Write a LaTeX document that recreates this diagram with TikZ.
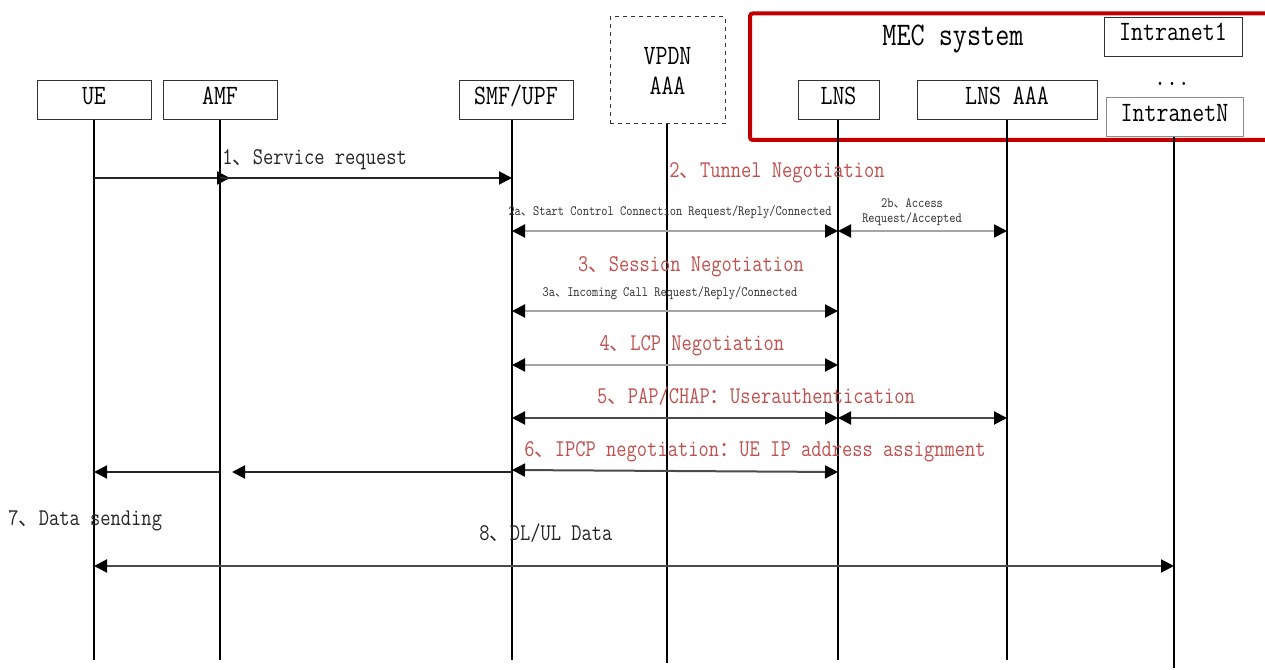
\documentclass[tikz,border=0pt]{standalone}
\usepackage{fontspec}
\setmainfont{Latin Modern Mono}[FakeStretch=0.83]
\newfontfamily\cjk{Noto Sans CJK SC}[Scale=0.85]
\usetikzlibrary{arrows.meta,calc}
\definecolor{framered}{RGB}{192,0,0}
\definecolor{txtred}{RGB}{192,80,77}
\definecolor{boxgray}{RGB}{51,51,51}
\definecolor{lightline}{RGB}{165,165,165}
\definecolor{darkline}{RGB}{75,75,75}
\newcommand\dun{{\cjk 、}}
\newcommand\fwc{{\cjk ：}}
\begin{document}
\begin{tikzpicture}[x=0.75pt,y=-0.75pt,
  >={Triangle[length=9.75pt,width=9.75pt,color=black]},
  actor/.style={draw=boxgray,fill=white,line width=0.75pt,inner sep=0pt,minimum height=29.25pt,
    font=\fontsize{21pt}{25pt}\selectfont,text height=0.56em,text depth=0pt},
  life/.style={line width=1.1pt,black},
  msg/.style={line width=1.5pt,draw=#1,->},
  msg/.default=black!85,
  dmsg/.style={line width=1.5pt,draw=#1,<->},
  dmsg/.default=darkline,
  lab/.style={font=\fontsize{18pt}{21pt}\selectfont,inner sep=0pt,text=black!85},
  redlab/.style={lab,text=txtred},
  small/.style={font=\fontsize{10.7pt}{11.5pt}\selectfont,inner sep=0pt,text=black!80,align=center}
]
\useasboundingbox[fill=white] (0,0) rectangle (1265,670);

% MEC system frame
\draw[framered,line width=3pt,rounded corners=2pt] (1265,13.5) -- (750,13.5) -- (750,140) -- (1265,140);
\node[font=\fontsize{24.75pt}{28pt}\selectfont,anchor=base,inner sep=0pt] (mec) at (953,46) {MEC system};

% actors
\node[actor,minimum width=85.5pt] (ue) at (94,100.5) {UE};
\node[actor,minimum width=85.5pt] (amf) at (220,100.5) {AMF};
\node[actor,minimum width=85.5pt] (smf) at (516,100.5) {SMF/UPF};
\node[draw=boxgray,dashed,line width=0.75pt,inner sep=0pt,minimum width=86.25pt,minimum height=80.25pt,
  align=center,font=\fontsize{21pt}{22.5pt}\selectfont] (vpdn) at (667.5,70.5) {VPDN\\AAA};
\node[actor,minimum width=60.75pt] (lns) at (838.5,100.5) {LNS};
\node[actor,minimum width=135pt] (lnsaaa) at (1007,100.5) {LNS AAA};
\node[actor,minimum width=103.5pt] (int1) at (1173,37) {Intranet1};
\node[font=\fontsize{21pt}{25pt}\selectfont,anchor=base,inner sep=0pt] (dots) at (1172,86) {...};
\node[actor,draw=black!45,minimum width=102.75pt] (intN) at (1174.5,117.5) {IntranetN};

% lifeline anchors
\coordinate (smfX) at (512,120);
\coordinate (vpdnX) at (667,124);
\coordinate (lnsX) at (838,120);
\coordinate (intX) at (1174,137);
\coordinate (bot) at (0,660);

\draw[life] (ue.south) -- (ue.south |- bot);
\draw[life] (amf.south) -- (amf.south |- bot);
\draw[life] (smfX) -- (smfX |- bot);
\draw[life] (vpdnX) -- ($(vpdnX |- bot)+(0,3)$);
\draw[life] (lnsX) -- (lnsX |- bot);
\draw[life] (lnsaaa.south) -- (lnsaaa.south |- bot);
\draw[life] (intX) -- ($(intX |- bot)+(0,8)$);

% rows
\coordinate (r1) at (0,178);
\coordinate (r2) at (0,231);
\coordinate (r3) at (0,311);
\coordinate (r4) at (0,365);
\coordinate (r5) at (0,418);
\coordinate (r6l) at (0,470);
\coordinate (r6r) at (0,472);
\coordinate (r8) at (0,566);

% 1
\node[lab,anchor=base west] (l1) at (222,165) {1\dun Service request};
\draw[msg] (ue |- r1) -- ($(amf |- r1)+(10,0)$);
\draw[msg] (amf |- r1) -- (smfX |- r1);

% 2
\node[redlab,anchor=base] (l2) at (777,178) {2\dun Tunnel Negotiation};
\node[small,anchor=base] (l2a) at (670,216) {2a\dun Start Control Connection Request/Reply/Connected};
\node[small] (l2b) at (912,212) {2b\dun Access\\Request/Accepted};
\draw[dmsg=lightline] (smfX |- r2) -- (lnsX |- r2);
\draw[dmsg=lightline] (lnsX |- r2) -- (lnsaaa.south |- r2);

% 3
\node[redlab,anchor=base] (l3) at (691,272) {3\dun Session Negotiation};
\node[small,anchor=base] (l3a) at (670,297) {3a\dun Incoming Call Request/Reply/Connected};
\draw[dmsg=lightline] (smfX |- r3) -- (lnsX |- r3);

% 4
\node[redlab,anchor=base] (l4) at (692,351) {4\dun LCP Negotiation};
\draw[dmsg=lightline] (smfX |- r4) -- (lnsX |- r4);

% 5
\node[redlab,anchor=base] (l5) at (756,404) {5\dun PAP/CHAP\fwc Userauthentication};
\draw[dmsg] (smfX |- r5) -- (lnsX |- r5);
\draw[dmsg] (lnsX |- r5) -- (lnsaaa.south |- r5);

% 6
\node[redlab,anchor=base] (l6) at (755,457) {6\dun IPCP negotiation\fwc UE IP address assignment};
\draw[dmsg] (smfX |- r6l) -- (lnsX |- r6r);
\draw[msg] (smfX |- r6r) -- ($(amf |- r6r)+(12,0)$);
\draw[msg] (amf |- r6r) -- (ue |- r6r);

% 7, 8
\node[lab,anchor=base west] (l7) at (8,526) {7\dun Data sending};
\node[lab,anchor=base west] (l8) at (479,540) {8\dun DL/UL Data};
\draw[dmsg] (ue |- r8) -- (intX |- r8);
\end{tikzpicture}
\end{document}
